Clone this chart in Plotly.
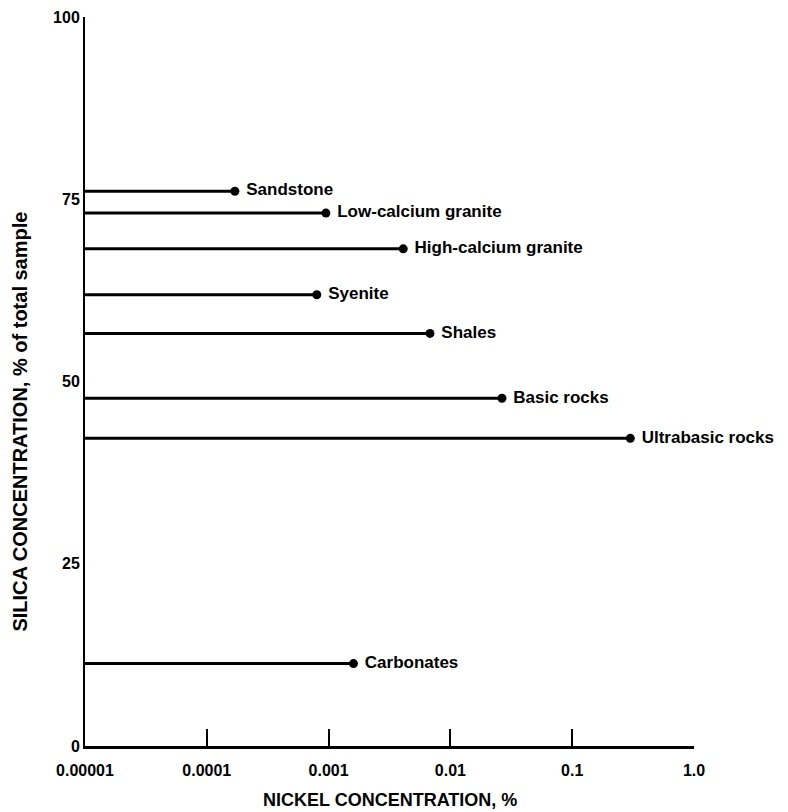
import plotly.graph_objects as go

rocks = ["Sandstone", "Low-calcium granite", "High-calcium granite", "Syenite",
         "Shales", "Basic rocks", "Ultrabasic rocks", "Carbonates"]
silica = [76.1, 73.1, 68.2, 61.9, 56.6, 47.7, 42.2, 11.3]
nickel = [0.00017, 0.00095, 0.0041, 0.0008, 0.0068, 0.0265, 0.30, 0.0016]

x_ticks = [0.00001, 0.0001, 0.001, 0.01, 0.1, 1.0]
x_tick_text = ["0.00001", "0.0001", "0.001", "0.01", "0.1", "1.0"]
y_ticks = [0, 25, 50, 75, 100]
x_start = 0.00001

FONT = "Liberation Sans, Arial, sans-serif"

fig = go.Figure()
for name, s, n in zip(rocks, silica, nickel):
    fig.add_trace(go.Scatter(x=[x_start, n], y=[s, s], mode="lines",
                             line=dict(color="black", width=3),
                             showlegend=False, hoverinfo="skip"))
fig.add_trace(go.Scatter(x=nickel, y=silica, mode="markers+text",
                         marker=dict(color="black", size=9),
                         text=[" " + r for r in rocks], textposition="middle right",
                         textfont=dict(family=FONT, size=17, color="black", weight="bold"),
                         showlegend=False, cliponaxis=False))

fig.update_layout(
    width=780, height=804,
    margin=dict(l=77, r=94, t=9, b=66, autoexpand=False),
    paper_bgcolor="white", plot_bgcolor="white",
    font=dict(family=FONT, color="black"),
    xaxis=dict(type="log", range=[-5, 0], tickvals=x_ticks, ticktext=x_tick_text,
               ticks="inside", ticklen=17, tickwidth=2, tickcolor="black",
               showline=True, linecolor="black", linewidth=3, showgrid=False,
               zeroline=False, ticklabelstandoff=8,
               tickfont=dict(family=FONT, size=16, color="black", weight="bold")),
    yaxis=dict(range=[0, 100], tickvals=y_ticks, ticks="", showline=True,
               linecolor="black", linewidth=2, showgrid=False, zeroline=False,
               ticklabelstandoff=0, ticklabeloverflow="allow",
               tickfont=dict(family=FONT, size=16, color="black", weight="bold")),
    annotations=[
        dict(text="NICKEL CONCENTRATION, %", xref="paper", yref="paper",
             x=0.5, y=0, yshift=-54, showarrow=False, yanchor="middle",
             font=dict(family=FONT, size=18, color="black", weight="bold")),
        dict(text="SILICA CONCENTRATION, % of total sample", xref="paper", yref="paper",
             x=0, xshift=-65, y=0.445, textangle=-90, showarrow=False,
             xanchor="center", yanchor="middle",
             font=dict(family=FONT, size=20, color="black", weight="bold")),
    ],
)

fig.write_html("out.html")
